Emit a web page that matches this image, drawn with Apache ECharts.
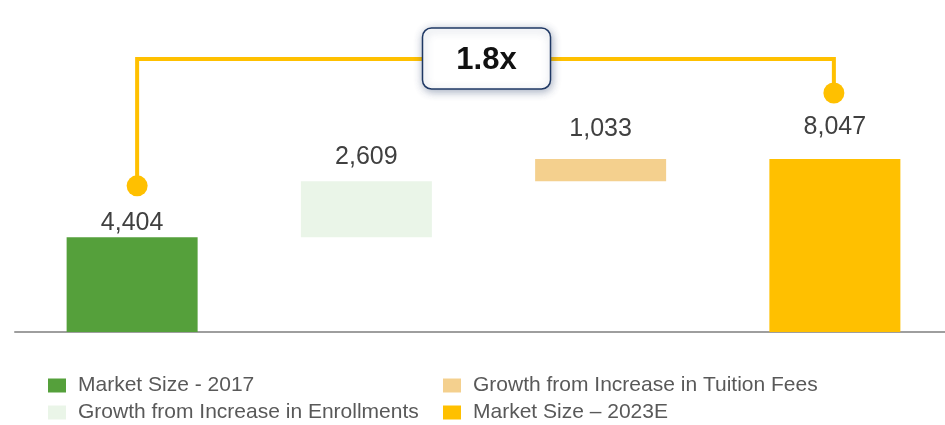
<!DOCTYPE html>
<html>
<head>
<meta charset="utf-8">
<style>
  html, body { margin: 0; padding: 0; background: #ffffff; overflow: hidden; }
  #chart { width: 952px; height: 425px; }
</style>
<script src="https://cdn.jsdelivr.net/npm/echarts@6/dist/echarts.min.js"></script>
</head>
<body>
<div id="chart"></div>
<script>
// Market size bridge: 2017 -> 2023E
const categories = ['Market Size - 2017', 'Growth from Increase in Enrollments', 'Growth from Increase in Tuition Fees', 'Market Size \u2013 2023E'];
const start2017 = 4404;
const enrollmentGrowth = 2609;
const tuitionGrowth = 1033;
const end2023 = 8047;
const multipleText = '1.8x';

const colors = ['#55A03B', '#EAF5E8', '#F4D08E', '#FFC000'];
const FONT = '"Liberation Sans", Arial, sans-serif';

// invisible base of each floating step
const baseValues = [0, start2017, start2017 + enrollmentGrowth, 0];
const stepValues = [start2017, enrollmentGrowth, tuitionGrowth, end2023];
const labelDistance = [2, 12, 17, 19];

function oneBar(i) {
  return categories.map((c, j) => (j === i ? stepValues[i] : '-'));
}

const series = [{
  name: 'base',
  type: 'bar',
  stack: 'bridge',
  barWidth: 131,
  silent: true,
  itemStyle: { color: 'transparent' },
  data: baseValues
}];
categories.forEach((name, i) => {
  series.push({
    name: name,
    type: 'bar',
    stack: 'bridge',
    barWidth: 131,
    itemStyle: { color: colors[i] },
    label: {
      show: true,
      position: 'top',
      distance: labelDistance[i],
      fontFamily: FONT,
      fontSize: 25,
      color: '#404040',
      formatter: p => p.value.toLocaleString('en-US')
    },
    data: oneBar(i)
  });
});

const legendText = { fontFamily: FONT, fontSize: 21, color: '#595959', lineHeight: 20, padding: [0, 0, 0, 7] };
const legendCommon = {
  orient: 'vertical',
  top: 375,
  padding: 0,
  itemWidth: 18,
  itemHeight: 14,
  itemGap: 6,
  icon: 'rect',
  selectedMode: false,
  textStyle: legendText
};

const chart = echarts.init(document.getElementById('chart'), null, { renderer: 'canvas' });
chart.setOption({
  animation: false,
  backgroundColor: '#ffffff',
  grid: { left: 15, right: 0, top: 117, bottom: 93 },
  xAxis: {
    type: 'category',
    data: categories,
    axisLine: { show: true, lineStyle: { color: '#9E9E9E', width: 2 } },
    axisTick: { show: false },
    axisLabel: { show: false }
  },
  yAxis: {
    type: 'value',
    min: 0,
    max: 10000,
    show: false,
    splitLine: { show: false }
  },
  legend: [
    Object.assign({ left: 48, data: [categories[0], categories[1]] }, legendCommon),
    Object.assign({ left: 443, data: [categories[2], categories[3]] }, legendCommon)
  ],
  series: series
});

// Growth-multiple bracket joining the 2017 and 2023E bars
const bracketY = 59;
const lineColor = '#FFC000';
const pStart = chart.convertToPixel({ xAxisIndex: 0, yAxisIndex: 0 }, [0, start2017]);
const pEnd = chart.convertToPixel({ xAxisIndex: 0, yAxisIndex: 0 }, [3, end2023]);
const leftX = pStart[0] + 5;
const rightX = pEnd[0] - 1;
const leftDotY = pStart[1] - 51.5;
const rightDotY = pEnd[1] - 66;
const midX = (leftX + rightX) / 2;

chart.setOption({
  graphic: [{
    type: 'polyline',
    shape: { points: [[leftX, leftDotY], [leftX, bracketY], [rightX, bracketY], [rightX, rightDotY]] },
    style: { stroke: lineColor, lineWidth: 4, fill: null },
    z: 10
  }, {
    type: 'circle',
    shape: { cx: leftX, cy: leftDotY, r: 10.5 },
    style: { fill: lineColor },
    z: 11
  }, {
    type: 'circle',
    shape: { cx: rightX, cy: rightDotY, r: 10.5 },
    style: { fill: lineColor },
    z: 11
  }, {
    type: 'rect',
    shape: { x: midX - 63, y: bracketY - 31, width: 128, height: 61, r: 9 },
    style: {
      fill: '#ffffff',
      stroke: '#1F3864',
      lineWidth: 1.5,
      shadowBlur: 8,
      shadowColor: 'rgba(60,80,120,0.45)',
      shadowOffsetX: 1,
      shadowOffsetY: 2
    },
    z: 12
  }, {
    type: 'text',
    x: midX + 1,
    y: bracketY + 1,
    style: {
      text: multipleText,
      fontFamily: FONT,
      fontWeight: 'bold',
      fontSize: 31,
      fill: '#111111',
      align: 'center',
      verticalAlign: 'middle'
    },
    z: 13
  }]
});
</script>
</body>
</html>
